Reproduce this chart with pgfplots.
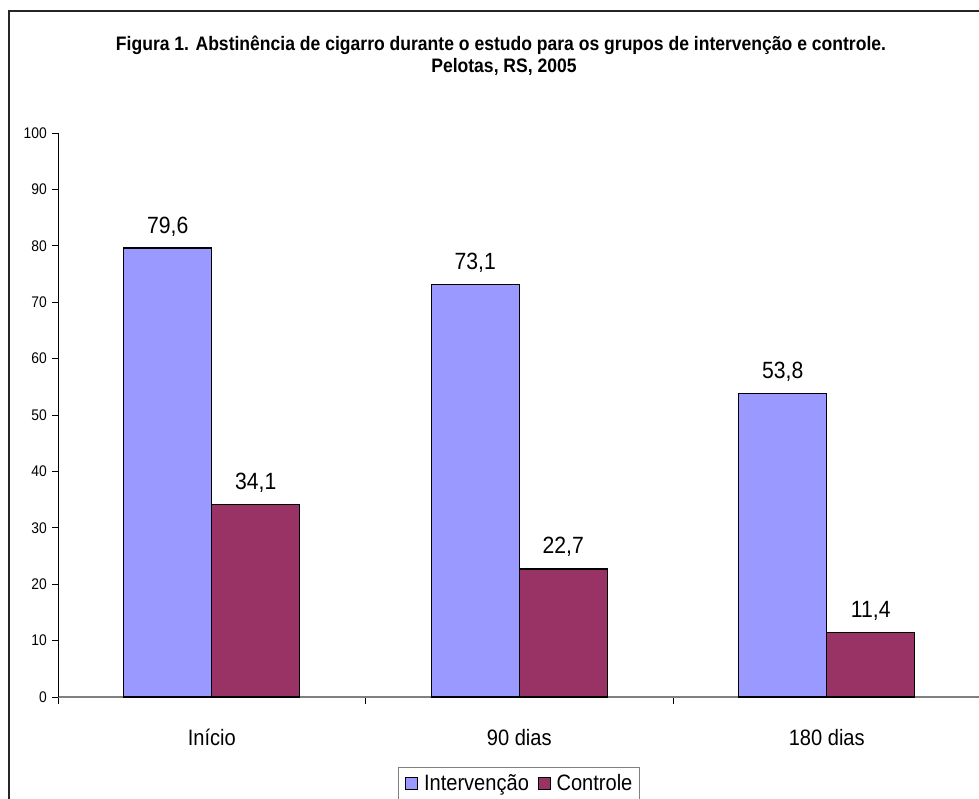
\documentclass[border=0pt]{standalone}
\usepackage{pgfplots}
\pgfplotsset{compat=1.18}
\usepackage{fontspec}
\setmainfont[FakeStretch=0.9]{Liberation Sans}
\newfontfamily\serif{Liberation Serif}
\definecolor{interv}{HTML}{9999FF}
\definecolor{contr}{HTML}{993366}
\begin{document}
\begin{tikzpicture}[x=1pt,y=1pt]
% frame
\draw[line width=1.5pt, black!85] (9,-10) -- (9,787) -- (990,787);
% partial page text above the frame
\begin{scope}
\clip (0,793) rectangle (200,798);
\node[anchor=base west, inner sep=0, font=\serif\fontsize{22}{26}\selectfont] at (8,802) {Figura};
\end{scope}
% title
\node[anchor=base, inner sep=0, font=\bfseries\fontsize{19.5}{23}\selectfont] at (501,747) {Figura 1. Abstinência de cigarro durante o estudo para os grupos de intervenção e controle.};
\node[anchor=base, inner sep=0, font=\bfseries\fontsize{19.5}{23}\selectfont] at (504,725) {Pelotas, RS, 2005};
\begin{axis}[
  at={(58pt,101pt)}, anchor=south west,
  scale only axis, width=922.5pt, height=564pt,
  xmin=-0.5, xmax=2.5, ymin=0, ymax=100,
  axis lines=left,
  x axis line style={-, draw=gray, line width=1.5pt},
  y axis line style={-, draw=black, line width=0.8pt},
  ytick={0,10,...,100},
  xtick={0,1,2},
  xticklabels={Início,90 dias,180 dias},
  minor xtick={-0.5,0.5,1.5,2.5},
  tick align=outside,
  major tick length=6pt,
  minor tick length=7pt,
  major x tick style={draw=none},
  minor x tick style={black, line width=0.8pt},
  major y tick style={black, line width=0.8pt},
  /pgf/number format/assume math mode=true,
  yticklabel style={font=\fontsize{15.4}{18}\selectfont, inner sep=0pt, anchor=east, xshift=-5pt},
  xticklabel style={font=\fontsize{22.3}{26}\selectfont, inner sep=0pt, anchor=base, yshift=-42pt},
  ybar=0pt, bar width=88pt,
  nodes near coords={\pgfmathprintnumber[fixed,fixed zerofill,precision=1,use comma,assume math mode=true]{\pgfplotspointmeta}},
  every node near coord/.append style={font=\fontsize{23.5}{27}\selectfont, anchor=base, inner sep=0pt, yshift=15pt},
  legend columns=2,
  legend style={at={(0.3686,-0.1241)}, anchor=north west, draw=gray, line width=0.8pt,
    font=\fontsize{22.3}{26}\selectfont, inner xsep=7pt, inner ysep=7pt,
    nodes={inner sep=0pt, anchor=base west},
    /tikz/every odd column/.append style={column sep=6pt},
    /tikz/every even column/.append style={column sep=9pt}},
  legend image code/.code={\draw[#1,line width=0.6pt] (0pt,1pt) rectangle (12pt,13pt);},
  clip=false,
]
\addplot[fill=interv, draw=black, line width=1.2pt] coordinates {(0,79.6) (1,73.1) (2,53.8)};
\addplot[fill=contr, draw=black, line width=1.2pt] coordinates {(0,34.1) (1,22.7) (2,11.4)};
\legend{Intervenção,Controle}
\end{axis}
\pgfresetboundingbox
\useasboundingbox (0,0) rectangle (979,798);
\end{tikzpicture}
\end{document}
